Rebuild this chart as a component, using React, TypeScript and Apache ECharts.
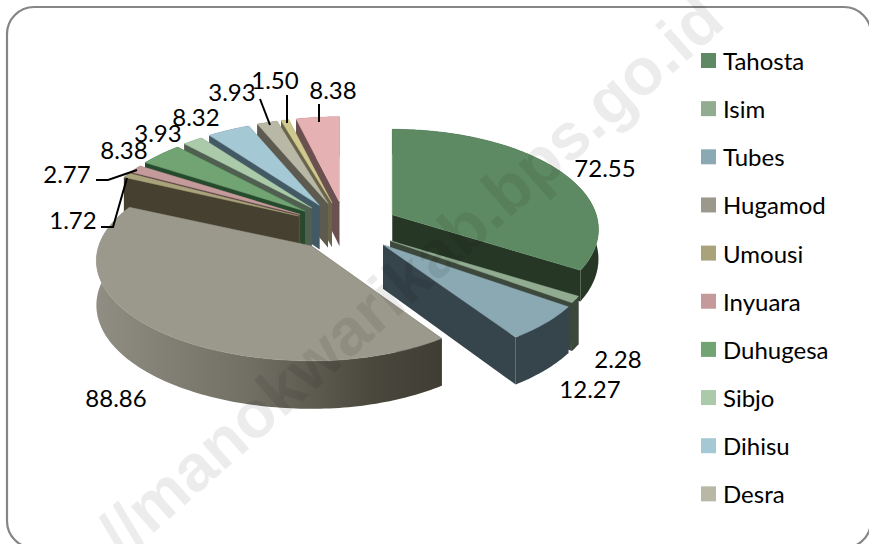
import React, { useEffect, useRef } from "react";
import * as echarts from "echarts";

const categories = ["Tahosta", "Isim", "Tubes", "Hugamod", "Umousi", "Inyuara", "Duhugesa", "Sibjo", "Dihisu", "Desra"];
const hiddenCategories = ["Kategori 11", "Kategori 12"];
const values = [72.55, 2.28, 12.27, 88.86, 1.72, 2.77, 8.38, 3.93, 8.32, 3.93, 1.5, 8.38];

const topColors = ["#5d8a62", "#92ac92", "#8aa9b3", "#9b998b", "#aaa27a", "#c49a9b", "#72a372", "#abcaa9", "#a5c9d4", "#b9b7a5", "#cfc88f", "#e6b1b2"];
const wallColors = ["#263726", "#3c483c", "#36444c", "#45423a", "#45402f", "#5e4848", "#254a2c", "#4f5f50", "#435a65", "#5d5b50", "#6a654a", "#6b5050"];
const drawOrder = [11, 10, 9, 8, 7, 6, 5, 4, 0, 1, 2, 3];
const sliceDepths = [29, 46, 44, 44, 44, 44, 44, 44, 44, 44, 44, 44];
const radiiRight = [204, 204, 208, 204, 204, 204, 204, 204, 204, 204, 204, 204];
const radiiLeft = [204, 204, 208, 213, 204, 204, 204, 204, 204, 204, 204, 204];

const labelCenters = [[605, 167], [618, 358], [590, 388], [116, 397], [73, 219], [67, 173], [124, 149], [158, 132], [196, 116], [232, 91], [275, 79], [333, 89]];
const leaders: Record<number, number[][]> = {
  4: [[101, 227], [113, 227], [127, 178]],
  5: [[96, 180], [108, 180], [137, 170]],
  9: [[260, 99], [270, 125]],
  10: [[287, 95], [287, 123]],
  11: [[319, 104], [319, 122]],
};

const centerX = 346, centerY = 227, explodeX = 53, explodeY = 25;
const radiusY = 98, perspective = 0.146, depthGrow = 4;
const fontFamily = "Lato, Carlito, sans-serif";
const total = values.reduce((s, v) => s + v, 0);

function sliceGeometry(i: number) {
  const before = values.slice(0, i).reduce((s, v) => s + v, 0);
  const a0 = (before / total) * Math.PI * 2;
  const a1 = ((before + values[i]) / total) * Math.PI * 2;
  const mid = (a0 + a1) / 2;
  const ax = centerX + explodeX * Math.sin(mid);
  const ay = centerY - explodeY * Math.cos(mid);
  const depth = sliceDepths[i];
  const top = (t: number) => {
    const X = Math.sin(t), Y = -Math.cos(t), d = 1 - perspective * Y;
    const rx = X > 0 ? radiiRight[i] : radiiLeft[i];
    return [ax + (rx * X) / d, ay + (radiusY * Y) / d];
  };
  const down = (t: number) => {
    const p = top(t);
    return [p[0], p[1] + depth - depthGrow * Math.cos(t)];
  };
  const steps = Math.max(2, Math.ceil((a1 - a0) / 0.02));
  const ts: number[] = [];
  for (let k = 0; k <= steps; k++) ts.push(a0 + ((a1 - a0) * k) / steps);
  return { ax, ay, ts, top, down, depth };
}

function makeRenderItem(i: number) {
  return () => {
    const g = sliceGeometry(i);
    const arcTop = g.ts.map(g.top);
    const arcDown = g.ts.map(g.down);
    const apex = [g.ax, g.ay];
    const apexDown = [g.ax, g.ay + g.depth];
    const wall = wallColors[i];
    const outerFill: any = i === 3
      ? new echarts.graphic.LinearGradient(0, 0, 1, 0, [
          { offset: 0, color: "#908e82" },
          { offset: 0.45, color: "#716f64" },
          { offset: 0.8, color: "#4a473d" },
          { offset: 1, color: "#403d34" },
        ])
      : wall;
    const children: any[] = [
      { type: "polygon", shape: { points: [apex, arcTop[0], arcDown[0], apexDown] }, style: { fill: wall } },
      { type: "polygon", shape: { points: [apex, arcTop[arcTop.length - 1], arcDown[arcDown.length - 1], apexDown] }, style: { fill: wall } },
      { type: "polygon", shape: { points: [...arcTop, ...arcDown.slice().reverse()] }, style: { fill: outerFill } },
      { type: "polygon", shape: { points: [apex, ...arcTop] }, style: { fill: topColors[i], stroke: topColors[i], lineWidth: 0.5 } },
    ];
    return { type: "group", children };
  };
}

function makeLabelRender(i: number) {
  return (_params: any, api: any) => {
    const value = api.value(0);
    const c = labelCenters[i];
    const children: any[] = [
      { type: "text", style: { text: value.toFixed(2), x: c[0], y: c[1], align: "center", verticalAlign: "middle", fill: "#000", font: `24px ${fontFamily}` } },
    ];
    if (leaders[i]) {
      children.push({ type: "polyline", shape: { points: leaders[i] }, style: { stroke: "#000", lineWidth: 2, fill: "none" } });
    }
    return { type: "group", children };
  };
}

export default function App() {
  const ref = useRef<HTMLDivElement>(null);
  useEffect(() => {
    const chart = echarts.init(ref.current!, undefined, { renderer: "svg" });
    const names = [...categories, ...hiddenCategories];
    const sliceSeries = values.map((v, i) => ({
      type: "custom",
      name: names[i],
      coordinateSystem: "none",
      renderItem: makeRenderItem(i),
      data: [v],
      z: 2 + drawOrder.indexOf(i),
      silent: true,
      itemStyle: { color: topColors[i] },
    }));
    const labelSeries = values.map((v, i) => ({
      type: "custom",
      name: "label-" + i,
      coordinateSystem: "none",
      renderItem: makeLabelRender(i),
      data: [v],
      z: 30,
      silent: true,
    }));
    chart.setOption({
      animation: false,
      backgroundColor: "#fff",
      legend: {
        orient: "vertical",
        left: 701,
        top: 48.5,
        height: 490,
        data: categories,
        icon: "rect",
        itemWidth: 15,
        itemHeight: 15,
        itemGap: 24.15,
        selectedMode: false,
        padding: 0,
        textStyle: { fontFamily, fontSize: 24, color: "#000", padding: [0, 0, 0, 2] },
      },
      graphic: [
        { type: "rect", z: 0, shape: { x: 7, y: 7, width: 864, height: 541, r: 27 }, style: { fill: "#fff", stroke: "#868686", lineWidth: 2.2 } },
        { type: "text", z: 50, silent: true, x: 712, y: 8, rotation: (41.5 * Math.PI) / 180, style: { text: "//manokwarikab.bps.go.id", align: "right", verticalAlign: "middle", fill: "rgba(0,0,0,0.075)", font: `bold 66px "Liberation Sans", sans-serif` } },
      ],
      series: [...sliceSeries, ...labelSeries],
    });
    return () => chart.dispose();
  }, []);
  return <div ref={ref} style={{ position: "fixed", left: 0, top: 0, width: 869, height: 544 }} />;
}
